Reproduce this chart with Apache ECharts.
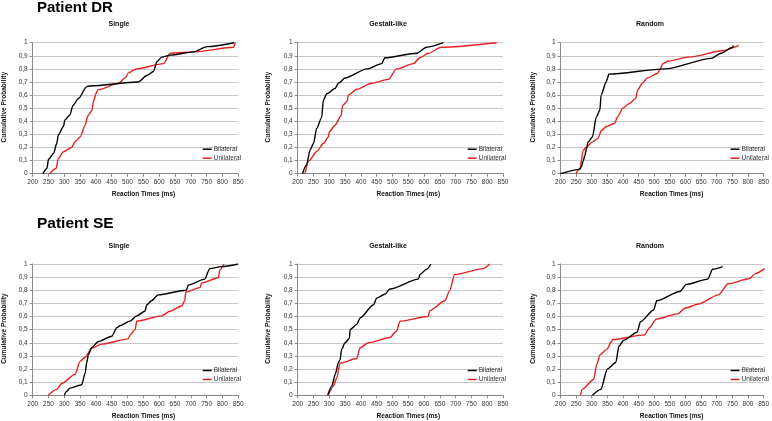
<!DOCTYPE html>
<html><head><meta charset="utf-8">
<script src="https://cdn.jsdelivr.net/npm/echarts@6/dist/echarts.min.js"></script>
<style>html,body{margin:0;padding:0;background:#fff}#c{width:772px;height:421px}</style>
</head><body><div id="c"></div>
<script>
// Data: [reaction time (ms), cumulative probability]
var drSingleBilateral = [[232,0],[245,0.04],[250,0.11],[266,0.155],[276,0.23],[281,0.295],[297,0.36],[302,0.41],[318,0.45],[327,0.52],[345,0.575],[371,0.665],[382,0.67],[534,0.70],[561,0.75],[582,0.78],[593,0.855],[608,0.89],[635,0.905],[709,0.93],[751,0.97],[837,1.0]];
var drSingleUnilateral = [[253,0],[274,0.04],[281,0.117],[297,0.168],[323,0.2],[334,0.244],[350,0.28],[366,0.37],[374,0.44],[387,0.48],[392,0.55],[400,0.61],[406,0.64],[471,0.69],[492,0.73],[503,0.77],[527,0.80],[614,0.84],[635,0.92],[709,0.93],[836,0.965],[840,1.0]];
var drGestaltBilateral = [[215,0],[228,0.066],[239,0.18],[250,0.23],[260,0.345],[276,0.43],[281,0.56],[292,0.61],[318,0.65],[329,0.69],[350,0.73],[419,0.80],[466,0.84],[476,0.885],[577,0.92],[608,0.965],[661,1.0]];
var drGestaltUnilateral = [[223,0],[236,0.10],[260,0.17],[281,0.23],[297,0.28],[300,0.32],[318,0.37],[337,0.44],[342,0.52],[357,0.555],[360,0.60],[387,0.645],[434,0.69],[487,0.72],[513,0.80],[566,0.84],[587,0.885],[614,0.92],[654,0.965],[830,1.0]];
var drRandomBilateral = [[200,0],[262,0.033],[267,0.053],[273,0.10],[278,0.14],[283,0.19],[288,0.24],[302,0.28],[315,0.435],[326,0.485],[330,0.60],[346,0.70],[351,0.73],[354,0.76],[535,0.80],[683,0.88],[714,0.92],[751,0.965],[753,0.98]];
var drRandomUnilateral = [[249,0],[262,0.04],[273,0.18],[283,0.205],[304,0.245],[320,0.27],[331,0.33],[347,0.36],[373,0.385],[383,0.435],[399,0.50],[420,0.535],[441,0.575],[447,0.64],[462,0.69],[478,0.73],[510,0.765],[520,0.80],[527,0.84],[546,0.86],[609,0.89],[725,0.94],[756,0.965],[770,0.98]];
var seSingleBilateral = [[300,0],[307,0.03],[318,0.055],[355,0.08],[366,0.17],[371,0.25],[376,0.31],[387,0.365],[408,0.41],[450,0.45],[466,0.515],[476,0.53],[508,0.565],[529,0.605],[555,0.64],[561,0.69],[576,0.72],[597,0.765],[686,0.80],[692,0.84],[744,0.885],[760,0.965],[797,0.98],[850,1.0]];
var seSingleUnilateral = [[249,0],[276,0.045],[292,0.09],[334,0.16],[350,0.26],[366,0.29],[387,0.36],[418,0.39],[502,0.43],[508,0.46],[524,0.50],[529,0.565],[608,0.605],[634,0.64],[671,0.68],[681,0.72],[684,0.785],[729,0.82],[734,0.855],[787,0.895],[792,0.955],[805,1.0]];
var seGestaltBilateral = [[295,0],[308,0.07],[319,0.16],[329,0.25],[334,0.27],[339,0.35],[350,0.40],[364,0.435],[366,0.50],[387,0.54],[398,0.59],[440,0.69],[450,0.74],[476,0.77],[492,0.81],[582,0.885],[587,0.92],[608,0.96],[622,1.0]];
var seGestaltUnilateral = [[297,0],[313,0.07],[324,0.135],[334,0.245],[387,0.28],[397,0.36],[424,0.40],[492,0.44],[513,0.49],[524,0.565],[613,0.60],[618,0.645],[666,0.72],[681,0.795],[697,0.92],[787,0.965],[808,1.0]];
var seRandomBilateral = [[302,0],[329,0.045],[350,0.20],[377,0.25],[387,0.375],[403,0.42],[445,0.48],[456,0.56],[498,0.65],[508,0.72],[582,0.79],[603,0.845],[671,0.885],[687,0.96],[719,0.98]];
var seRandomUnilateral = [[264,0],[269,0.045],[306,0.12],[316,0.235],[327,0.31],[348,0.35],[364,0.41],[367,0.425],[469,0.46],[485,0.515],[506,0.58],[574,0.62],[600,0.665],[642,0.695],[705,0.765],[737,0.85],[806,0.89],[822,0.925],[853,0.965]];

var panelTitles = ['Single','Gestalt-like','Random','Single','Gestalt-like','Random'];
var patientTitles = ['Patient DR','Patient SE'];
var seriesNames = ['Bilateral','Unilateral'];
var xAxisName = 'Reaction Times (ms)';
var yAxisName = 'Cumulative Probability';
var panelData = [
  [drSingleBilateral, drSingleUnilateral],
  [drGestaltBilateral, drGestaltUnilateral],
  [drRandomBilateral, drRandomUnilateral],
  [seSingleBilateral, seSingleUnilateral],
  [seGestaltBilateral, seGestaltUnilateral],
  [seRandomBilateral, seRandomUnilateral]
];

var colLeft = [32.7, 297.7, 560.5];
var colWidth = [205.5, 205.3, 206.2];
var rowTop = [42.7, 264];
var rowHeight = [131, 131.3];
var colors = ['#000000', '#e52222'];
var FONT = '"Liberation Sans", Arial, sans-serif';

var grids = [], xAxes = [], yAxes = [], series = [], legends = [], graphics = [];
for (var i = 0; i < 6; i++) {
  var r = Math.floor(i / 3), c = i % 3;
  var L = colLeft[c], T = rowTop[r], W = colWidth[c], H = rowHeight[r];
  grids.push({left: L, top: T, width: W, height: H, containLabel: false});
  xAxes.push({
    type: 'value', gridIndex: i, min: 200, max: 850, interval: 50,
    axisLine: {show: true, lineStyle: {color: '#888', width: 1}},
    axisTick: {show: true, length: 3, lineStyle: {color: '#888'}},
    axisLabel: {fontSize: 6.5, color: '#333', margin: 5, fontFamily: FONT},
    splitLine: {show: false}
  });
  yAxes.push({
    type: 'value', gridIndex: i, min: 0, max: 1, interval: 0.1,
    axisLine: {show: true, lineStyle: {color: '#888', width: 1}},
    axisTick: {show: true, length: 3, lineStyle: {color: '#888'}},
    axisLabel: {fontSize: 6.5, color: '#333', margin: 5, fontFamily: FONT,
      formatter: function (v) { return (Math.round(v * 10) / 10).toString().replace('.', ','); }},
    splitLine: {show: true, lineStyle: {color: '#c8c8c8', width: 1}}
  });
  for (var s = 0; s < 2; s++) {
    series.push({
      name: seriesNames[s], type: 'line', xAxisIndex: i, yAxisIndex: i,
      data: panelData[i][s], showSymbol: false, symbol: 'none',
      smooth: 0.25, smoothMonotone: 'x', clip: true,
      lineStyle: {color: colors[s], width: 1.4}, itemStyle: {color: colors[s]},
      animation: false, z: s === 0 ? 3 : 2
    });
  }
  legends.push({
    data: seriesNames, orient: 'vertical', left: L + 165, top: T + 98,
    icon: 'rect', itemWidth: 9, itemHeight: 1.5, itemGap: 2,
    textStyle: {fontSize: 6.5, color: '#333', fontFamily: FONT, padding: [0,0,0,-3]},
    selectedMode: false
  });
  var titleX = [119, 388, 650][c];
  var titleY = [24.5, 246][r];
  graphics.push({type: 'text', x: titleX, y: titleY, style: {text: panelTitles[i], font: 'bold 7px ' + FONT, fill: '#111', align: 'center', verticalAlign: 'middle'}});
  graphics.push({type: 'text', x: L + W / 2 + 8, y: T + H + 20.5, style: {text: xAxisName, font: 'bold 6.5px ' + FONT, fill: '#111', align: 'center', verticalAlign: 'middle'}});
  graphics.push({type: 'text', x: [4.5, 268.5, 533][c], y: T + H / 2 - 1, rotation: Math.PI / 2, style: {text: yAxisName, font: 'bold 6.5px ' + FONT, fill: '#111', align: 'center', verticalAlign: 'middle'}});
}
graphics.push({type: 'text', x: 37, y: 7.5, style: {text: patientTitles[0], font: 'bold 15px ' + FONT, fill: '#000', align: 'left', verticalAlign: 'middle'}});
graphics.push({type: 'text', x: 37, y: 223.5, style: {text: patientTitles[1], font: 'bold 15.5px ' + FONT, fill: '#000', align: 'left', verticalAlign: 'middle'}});

var chart = echarts.init(document.getElementById('c'), null, {renderer: 'canvas'});
chart.setOption({
  animation: false,
  backgroundColor: '#fff',
  grid: grids, xAxis: xAxes, yAxis: yAxes, series: series, legend: legends,
  graphic: graphics
});
</script></body></html>
